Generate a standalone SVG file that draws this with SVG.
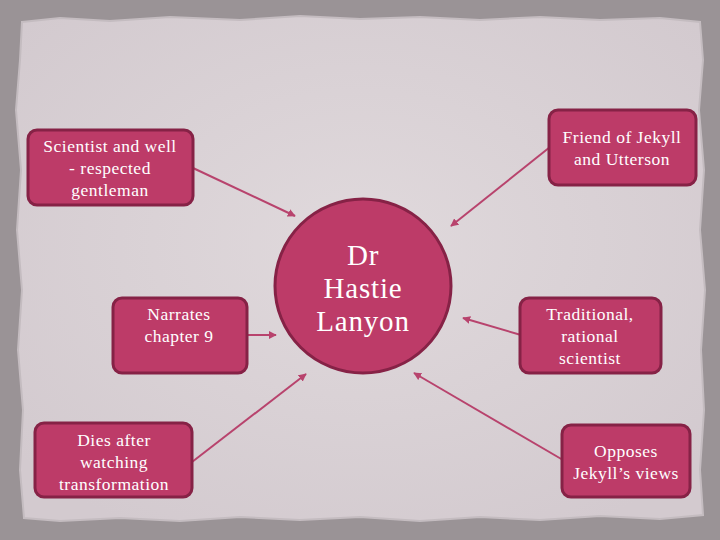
<svg xmlns="http://www.w3.org/2000/svg" width="720" height="540" viewBox="0 0 720 540">
<defs>
<style>
.box{fill:#bd3b68;stroke:#862246;stroke-width:3}
.t{font-family:"Liberation Serif","DejaVu Serif",serif;fill:#ffffff;text-anchor:middle;font-size:17.5px;letter-spacing:0.5px}
.big{font-size:29px;letter-spacing:0.8px}
.c{stroke:#b8436d;stroke-width:2;fill:none;marker-end:url(#ah)}
</style>
<marker id="ah" viewBox="0 0 10 10" refX="9" refY="5" markerWidth="4" markerHeight="4" orient="auto">
<path d="M0,0 L10,5 L0,10 z" fill="#b8436d"/>
</marker>
<radialGradient id="paper" cx="50%" cy="45%" r="65%">
<stop offset="0" stop-color="#e0d9dc"/>
<stop offset="1" stop-color="#d3cacf"/>
</radialGradient>
</defs>
<rect x="0" y="0" width="720" height="540" fill="#9a9396"/>
<path d="M22,22 L60,18 L110,21 L170,17 L240,20 L300,16 L360,19 L420,17 L480,20 L540,17 L600,20 L660,18 L700,22 L703,60 L699,110 L704,170 L700,230 L705,290 L701,350 L704,410 L700,470 L703,515 L660,519 L600,516 L540,520 L480,517 L420,521 L360,517 L300,520 L240,517 L180,521 L120,518 L60,521 L24,518 L20,470 L23,410 L18,350 L22,290 L17,230 L21,170 L16,110 L20,60 Z" fill="url(#paper)" stroke="#c4bcc0" stroke-width="2"/>
<g id="connectors">
<line class="c" x1="193" y1="168" x2="295" y2="216"/>
<line class="c" x1="550" y1="147" x2="451" y2="226"/>
<line class="c" x1="248" y1="335" x2="276" y2="335"/>
<line class="c" x1="192" y1="462" x2="306" y2="374"/>
<line class="c" x1="521" y1="335" x2="463" y2="318"/>
<line class="c" x1="563" y1="460" x2="414" y2="373"/>
</g>
<g id="center">
<ellipse class="box" cx="363" cy="286" rx="88" ry="87"/>
<text class="t big" x="363" y="265">Dr</text>
<text class="t big" x="363" y="298">Hastie</text>
<text class="t big" x="363" y="331">Lanyon</text>
</g>
<g id="n1">
<rect class="box" x="28" y="130" width="165" height="75" rx="9"/>
<text class="t" x="110" y="152">Scientist and well</text>
<text class="t" x="110" y="174">- respected</text>
<text class="t" x="110" y="196">gentleman</text>
</g>
<g id="n2">
<rect class="box" x="549" y="110" width="147" height="75" rx="9"/>
<text class="t" x="622" y="143">Friend of Jekyll</text>
<text class="t" x="622" y="165">and Utterson</text>
</g>
<g id="n3">
<rect class="box" x="113" y="298" width="134" height="75" rx="9"/>
<text class="t" x="179" y="320">Narrates</text>
<text class="t" x="179" y="342">chapter 9</text>
</g>
<g id="n4">
<rect class="box" x="35" y="423" width="157" height="74" rx="9"/>
<text class="t" x="114" y="446">Dies after</text>
<text class="t" x="114" y="468">watching</text>
<text class="t" x="114" y="490">transformation</text>
</g>
<g id="n5">
<rect class="box" x="520" y="298" width="141" height="75" rx="9"/>
<text class="t" x="590" y="320">Traditional,</text>
<text class="t" x="590" y="342">rational</text>
<text class="t" x="590" y="364">scientist</text>
</g>
<g id="n6">
<rect class="box" x="562" y="425" width="128" height="72" rx="9"/>
<text class="t" x="626" y="457">Opposes</text>
<text class="t" x="626" y="479">Jekyll’s views</text>
</g>
</svg>
